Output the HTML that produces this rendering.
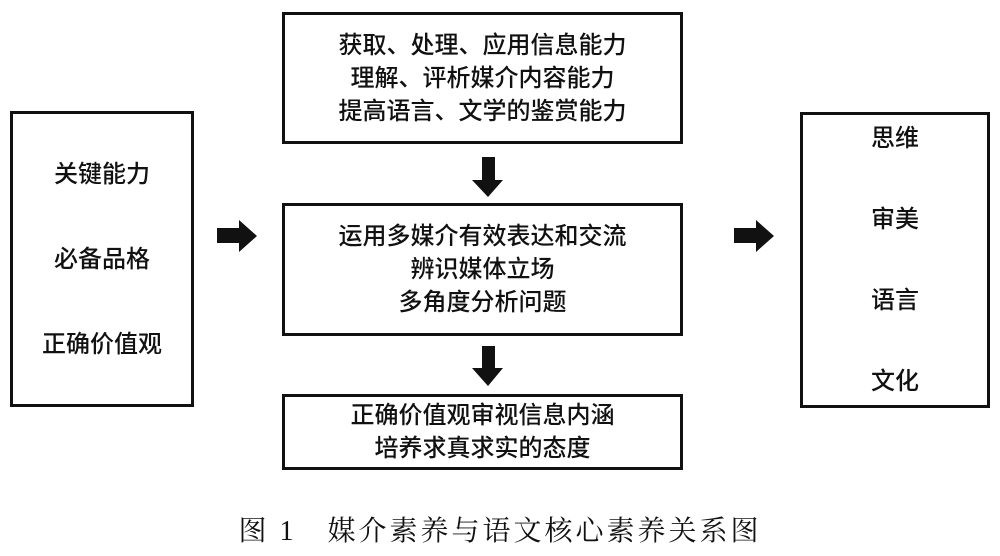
<!DOCTYPE html>
<html><head><meta charset="utf-8"><style>
body{margin:0;width:1000px;height:556px;background:#fff;position:relative;overflow:hidden;font-family:"Liberation Sans","Noto Sans CJK SC",sans-serif;color:#111}
.b{position:absolute;border:3px solid #111;box-sizing:border-box;display:flex;flex-direction:column;align-items:center;justify-content:center;text-align:center;font-size:24px;font-weight:500}
.b div{line-height:33px}
svg{position:absolute;left:0;top:0}
</style></head><body>
<div class="b" style="left:10px;top:111px;width:184px;height:296px"><div style="line-height:85px">关键能力<br>必备品格<br>正确价值观</div></div>
<div class="b" style="left:282px;top:12px;width:401px;height:132px"><div>获取、处理、应用信息能力<br>理解、评析媒介内容能力<br>提高语言、文学的鉴赏能力</div></div>
<div class="b" style="left:282px;top:203px;width:401px;height:133px"><div>运用多媒介有效表达和交流<br>辨识媒体立场<br>多角度分析问题</div></div>
<div class="b" style="left:282px;top:394px;width:401px;height:76px"><div>正确价值观审视信息内涵<br>培养求真求实的态度</div></div>
<div class="b" style="left:800px;top:112px;width:190px;height:296px"><div style="line-height:81px">思维<br>审美<br>语言<br>文化</div></div>
<svg width="1000" height="556">
<polygon fill="#111" points="482,157 495,157 495,180 503,180 488,197 472,180 482,180"/>
<polygon fill="#111" points="482,346 495,346 495,368 503,368 488,386 472,368 482,368"/>
<polygon fill="#111" points="217,228 239,228 239,220 257,236 239,252 239,243 217,243"/>
<polygon fill="#111" points="734,228 756,228 756,220 774,236 756,252 756,243 734,243"/>
</svg>
<div style="position:absolute;left:0;width:1000px;top:509px;text-align:center;font-family:'Liberation Serif','Noto Serif CJK SC',serif;font-size:28px;letter-spacing:3px">图 1　媒介素养与语文核心素养关系图</div>
</body></html>
